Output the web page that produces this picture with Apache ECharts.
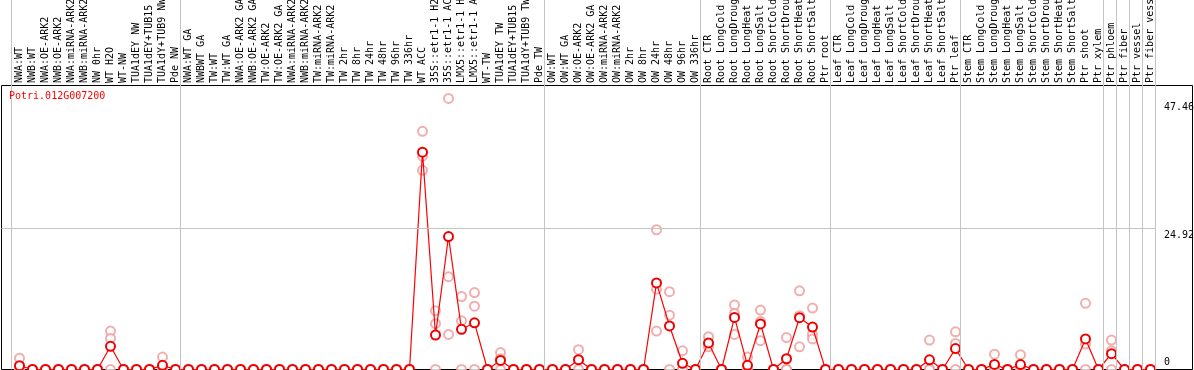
<!DOCTYPE html>
<html>
<head>
<meta charset="utf-8">
<script src="https://cdn.jsdelivr.net/npm/echarts@6/dist/echarts.min.js"></script>
<style>html,body{margin:0;padding:0;background:#fff;}#c{width:1194px;height:370px;}</style>
</head>
<body>
<div id="c"></div>
<script>
const categories = [
  'NWA:WT','NWB:WT','NWA:OE-ARK2','NWB:OE-ARK2','NWA:miRNA-ARK2','NWB:miRNA-ARK2','NW 0hr','WT H2O','WT-NW',
  'TUA1dEY NW','TUA1dEY+TUB15','TUA1dY+TUB9 NW','Pde NW',
  'NWA:WT GA','NWBWT GA','TW:WT','TW:WT GA','NWA:OE-ARK2 GA','NWB:OE-ARK2 GA','TW:OE-ARK2','TW:OE-ARK2 GA',
  'NWA:miRNA-ARK2','NWB:miRNA-ARK2','TW:miRNA-ARK2','TW:miRNA-ARK2','TW 2hr','TW 8hr','TW 24hr','TW 48hr','TW 96hr','TW 336hr',
  'WT ACC','35S::etr1-1 H2O','35S::etr1-1 ACC','LMX5::etr1-1 H2O','LMX5::etr1-1 ACC','WT-TW','TUA1dEY TW','TUA1dEY+TUB15','TUA1dY+TUB9 TW','Pde TW',
  'OW:WT','OW:WT GA','OW:OE-ARK2','OW:OE-ARK2 GA','OW:miRNA-ARK2','OW:miRNA-ARK2','OW 2hr','OW 8hr','OW 24hr','OW 48hr','OW 96hr','OW 336hr',
  'Root CTR','Root LongCold','Root LongDrought','Root LongHeat','Root LongSalt','Root ShortCold','Root ShortDrought','Root ShortHeat','Root ShortSalt','Ptr root',
  'Leaf CTR','Leaf LongCold','Leaf LongDrought','Leaf LongHeat','Leaf LongSalt','Leaf ShortCold','Leaf ShortDrought','Leaf ShortHeat','Leaf ShortSalt','Ptr leaf',
  'Stem CTR','Stem LongCold','Stem LongDrought','Stem LongHeat','Stem LongSalt','Stem ShortCold','Stem ShortDrought','Stem ShortHeat','Stem ShortSalt',
  'Ptr shoot','Ptr xylem','Ptr phloem','Ptr fiber','Ptr vessel','Ptr fiber vessel'
];

// mean expression per category
const meanValues = [
  0.67,0,0,0,0,0,0,4.1,0,0,0,0.73,0,
  0,0,0,0,0,0,0,0,0,0,0,0,0,0,0,0,0,0,
  38.4,6.1,23.5,7.1,8.25,0,1.6,0,0,0,
  0,0,1.73,0,0,0,0,0,15.3,7.7,1.1,0,
  4.7,0,9.2,0.73,8.05,0,1.9,9.15,7.5,0,
  0,0,0,0,0,0,0,1.72,0,3.7,
  0,0,0.9,0,0.87,0,0,0,0,
  5.4,0,2.8,0,0,0
];

// replicate values per category
const rep1 = [
  2.0,0,0,0,0,0,0,6.8,0,0,0,2.2,0,
  0,0,0,0,0,0,0,0,0,0,0,0,0,0,0,0,0,0,
  42.1,10.4,47.9,12.9,13.6,0,3.0,0,0,0,
  0,0,3.5,0,0,0,0,0,24.7,13.75,3.3,0,
  5.8,0,11.4,2.2,10.5,0,5.65,13.9,10.85,0,
  0,0,0,0,0,0,0,5.2,0,6.65,
  0,0,2.7,0,2.6,0,0,0,0,
  11.7,0,5.2,0,0,0
];
const rep2 = [
  0,0,0,0,0,0,0,5.5,0,0,0,0,0,
  0,0,0,0,0,0,0,0,0,0,0,0,0,0,0,0,0,0,
  37.7,8.1,16.4,8.6,11.2,0,1.9,0,0,0,
  0,0,1.7,0,0,0,0,0,14.2,9.6,0,0,
  4.3,0,9.9,0,8.5,0,0,9.5,6.2,0,
  0,0,0,0,0,0,0,0,0,4.6,
  0,0,0,0,0,0,0,0,0,
  4.5,0,3.3,0,0,0
];
const rep3 = [
  0,0,0,0,0,0,0,0,0,0,0,0,0,
  0,0,0,0,0,0,0,0,0,0,0,0,0,0,0,0,0,0,
  35.2,0,6.2,0,0,0,0,0,0,0,
  0,0,0,0,0,0,0,0,6.8,0,0,0,
  4.0,0,6.2,0,5.1,0,0,4.0,5.4,0,
  0,0,0,0,0,0,0,0,0,0,
  0,0,0,0,0,0,0,0,0,
  0,0,0,0,0,0
];

// indices where a new sample group starts (separator lines)
const groupStarts = [0, 13, 41, 53, 63, 73, 84, 85, 86, 87, 88];
const yTickValues = [0, 24.92, 47.46];
const yTickLabels = ['0', '24.92', '47.46'];
const geneTitle = 'Potri.012G007200';

// layout helpers (pixel geometry of the frame)
const STEP = 13, X0 = 19.5;
const Y0 = 369.5, YS = 5.658;
const px2x = p => (p - X0) / STEP;
const px2y = p => (Y0 - p) / YS;
const SEP = px2x(11.5); // separator offset relative to a category centre

const repData = [];
[rep1, rep2, rep3].forEach(r => r.forEach((v, i) => repData.push([i, v])));
const meanData = meanValues.map((v, i) => [i, v]);

const mono = 'DejaVu Sans Mono';
const chart = echarts.init(document.getElementById('c'), null, {renderer: 'canvas'});
chart.setOption({
  animation: false,
  backgroundColor: '#fff',
  title: {
    text: geneTitle, left: 4, top: 86,
    textStyle: {color: '#ff0000', fontFamily: mono, fontSize: 10, fontWeight: 'normal'}
  },
  grid: {left: 1, right: 1, top: 0, bottom: 0.5, containLabel: false, outerBoundsMode: 'none'},
  xAxis: {
    type: 'value', position: 'top', offset: -85,
    min: px2x(1), max: px2x(1193),
    axisLine: {show: false}, axisTick: {show: false}, splitLine: {show: false},
    axisLabel: {
      customValues: categories.map((c, i) => i),
      formatter: v => categories[Math.round(v)] || '',
      rotate: 90, margin: 2, color: '#000', fontFamily: mono, fontSize: 10
    }
  },
  yAxis: {
    type: 'value', position: 'right', min: 0, max: Y0 / YS,
    axisLine: {show: false}, axisTick: {show: false}, splitLine: {show: false},
    axisLabel: {
      inside: true, align: 'left', margin: 29, verticalAlign: 'middle',
      customValues: yTickValues,
      formatter: v => {
        const idx = yTickValues.indexOf(v);
        const t = idx >= 0 ? yTickLabels[idx] : '';
        return v === 0 ? '{z|' + t + '}' : '{t|' + t + '}';
      },
      rich: {
        t: {padding: [13, 0, 0, 0], color: '#000', fontFamily: mono, fontSize: 10},
        z: {padding: [0, 0, 14, 0], color: '#000', fontFamily: mono, fontSize: 10}
      }
    }
  },
  series: [
    {
      type: 'scatter', data: repData, symbol: 'emptyCircle', symbolSize: 9,
      itemStyle: {color: '#ee9a9a', borderColor: '#ee9a9a', borderWidth: 1.3},
      silent: true, z: 2,
      markLine: {
        silent: true, symbol: 'none', label: {show: false},
        lineStyle: {color: '#c4c4c4', width: 1, type: 'solid'},
        data: groupStarts.map(k => ({xAxis: k + SEP}))
          .concat([[{coord: [px2x(1.5), 24.92]}, {coord: [88 + SEP, 24.92]}]])
      },
      markArea: {
        silent: true,
        itemStyle: {color: 'rgba(0,0,0,0)', borderColor: '#000', borderWidth: 1},
        data: [[{coord: [px2x(1.5), px2y(85.5)]}, {coord: [px2x(1192.5), 0]}]]
      }
    },
    {
      type: 'line', data: meanData, symbol: 'emptyCircle', symbolSize: 9,
      lineStyle: {color: '#ff0000', width: 1.2},
      itemStyle: {color: '#ee0000', borderColor: '#dd0000', borderWidth: 1.6},
      silent: true, z: 3
    }
  ]
});
</script>
</body>
</html>
